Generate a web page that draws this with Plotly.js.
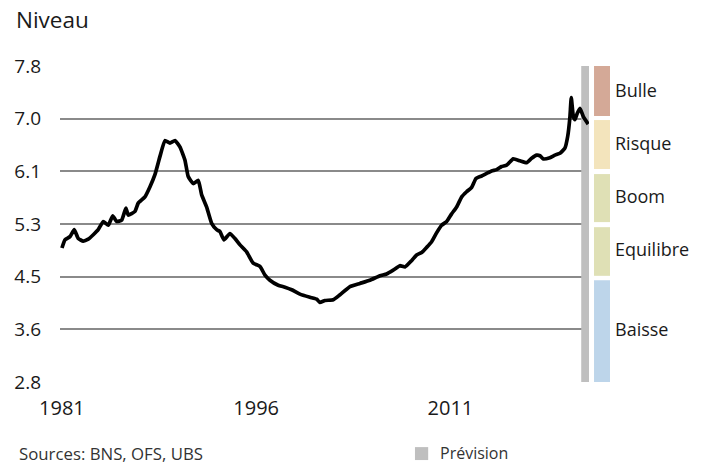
<!DOCTYPE html>
<html>
<head>
<meta charset="utf-8">
<script src="https://cdn.plot.ly/plotly-3.0.1.min.js"></script>
<style>html,body{margin:0;padding:0;background:#fff;}#chart{width:709px;height:464px;}</style>
</head>
<body>
<div id="chart"></div>
<script>
// Time (decimal years) and index level
const years = [1981.00,1981.23,1981.62,1981.95,1982.26,1982.64,1983.03,1983.42,1983.80,1984.19,1984.58,1984.92,1985.22,1985.61,1985.94,1986.12,1986.64,1986.89,1987.41,1987.80,1988.18,1988.57,1988.95,1989.34,1989.73,1990.11,1990.50,1990.75,1991.14,1991.53,1991.79,1992.17,1992.56,1992.95,1993.20,1993.51,1993.97,1994.36,1994.75,1995.26,1995.77,1996.29,1996.68,1997.06,1997.70,1998.22,1998.74,1999.38,2000.15,2000.67,2000.92,2001.31,2001.95,2002.47,2003.24,2004.01,2004.78,2005.56,2006.07,2006.58,2007.10,2007.49,2008.00,2008.39,2008.78,2009.16,2009.55,2009.93,2010.32,2010.71,2011.09,2011.48,2011.87,2012.25,2012.64,2012.97,2013.41,2013.80,2014.18,2014.57,2014.95,2015.34,2015.85,2016.37,2016.88,2017.27,2017.66,2017.91,2018.17,2018.68,2019.07,2019.46,2019.84,2020.05,2020.23,2020.33,2020.49,2020.61,2020.79,2021.00,2021.26,2021.64];
const level = [4.92,5.05,5.10,5.21,5.07,5.03,5.06,5.13,5.21,5.34,5.28,5.43,5.34,5.36,5.55,5.44,5.50,5.63,5.73,5.89,6.08,6.37,6.62,6.58,6.62,6.52,6.31,6.05,5.94,5.99,5.76,5.57,5.31,5.21,5.18,5.05,5.15,5.07,4.97,4.86,4.68,4.63,4.49,4.41,4.33,4.30,4.26,4.19,4.14,4.11,4.06,4.09,4.10,4.18,4.31,4.36,4.41,4.48,4.51,4.57,4.64,4.62,4.72,4.81,4.85,4.93,5.02,5.16,5.28,5.34,5.46,5.57,5.73,5.81,5.88,6.02,6.06,6.10,6.14,6.16,6.21,6.23,6.33,6.30,6.27,6.34,6.39,6.38,6.33,6.35,6.39,6.42,6.50,6.68,7.00,7.30,7.00,6.95,7.05,7.13,7.00,6.88];

// Forecast period
const forecastStart = 2021.1;
const forecastEnd = 2021.7;

// Risk zones
const zoneNames = ["Bulle","Risque","Boom","Equilibre","Baisse"];
const zoneLow  = [7.01, 6.17, 5.33, 4.48, 2.80];
const zoneHigh = [7.83, 6.945, 6.09, 5.25, 4.41];
const zoneColors = ["#d4a997","#f3e4bc","#dfe0b5","#dfe0b5","#bdd5ea"];

// Axis ticks
const yTickVals = [2.8, 3.6333, 4.4667, 5.3, 6.1333, 6.9667, 7.8];
const yTickText = ["2.8","3.6","4.5","5.3","6.1","7.0","7.8"];
const xTickVals = [1981, 1996, 2011];
const xTickText = ["1981","1996","2011"];

const FONT = "Open Sans, sans-serif";
const TXT = "#1a1a1a";

const shapes = [];
const annotations = [];

shapes.push({type:"rect", xref:"x", yref:"y", x0:forecastStart, x1:forecastEnd, y0:2.8, y1:7.83,
  fillcolor:"#bfbfbf", line:{width:0}, layer:"between"});

zoneNames.forEach((n,i)=>{
  shapes.push({type:"rect", xref:"paper", yref:"y", x0:1.0095, x1:1.0397, y0:zoneLow[i], y1:zoneHigh[i],
    fillcolor:zoneColors[i], line:{width:0}});
  annotations.push({xref:"paper", yref:"y", x:1.046, y:(zoneLow[i]+zoneHigh[i])/2, text:n, yshift:i===0?0:2,
    showarrow:false, xanchor:"left", yanchor:"middle", font:{family:FONT, size:18, color:TXT}});
});

// legend square for Prévision
shapes.push({type:"rect", xref:"paper", yref:"paper", x0:0.671, x1:0.696, y0:-0.247, y1:-0.206,
  fillcolor:"#bfbfbf", line:{width:0}});
annotations.push({xref:"paper", yref:"paper", x:0.7146, y:-0.2247, text:"Prévision", showarrow:false,
  xanchor:"left", yanchor:"middle", font:{family:FONT, size:16, color:"#333"}});
annotations.push({xref:"paper", yref:"paper", x:-0.0813, y:-0.2247, text:"Sources: BNS, OFS, UBS", showarrow:false,
  xanchor:"left", yanchor:"middle", font:{family:FONT, size:16.8, color:"#333"}});
annotations.push({xref:"paper", yref:"paper", x:-0.087, y:1.1456, text:"Niveau", showarrow:false,
  xanchor:"left", yanchor:"middle", font:{family:FONT, size:22.5, color:TXT}});

const trace = {x:years, y:level, type:"scatter", mode:"lines",
  line:{color:"#000", width:3.7, shape:"spline", smoothing:0.4}, hoverinfo:"skip"};

const layout = {
  width:709, height:464,
  margin:{l:60, r:120, t:66, b:82, pad:0},
  paper_bgcolor:"#fff", plot_bgcolor:"#fff",
  showlegend:false,
  xaxis:{range:[1980.85, 2021.70], tickvals:xTickVals, ticktext:xTickText, showgrid:false, zeroline:false,
    showline:false, ticks:"", ticklabelstandoff:12, tickfont:{family:FONT, size:20, color:TXT}},
  yaxis:{range:[2.8, 7.8], tickvals:yTickVals, ticktext:yTickText, showgrid:true, gridcolor:"#8a8a8a", gridwidth:2,
    zeroline:false, showline:false, ticks:"", ticklabelstandoff:18, tickfont:{family:FONT, size:19, color:TXT}},
  shapes:shapes, annotations:annotations
};

Plotly.newPlot("chart", [trace], layout, {staticPlot:true, displayModeBar:false});
</script>
</body>
</html>
